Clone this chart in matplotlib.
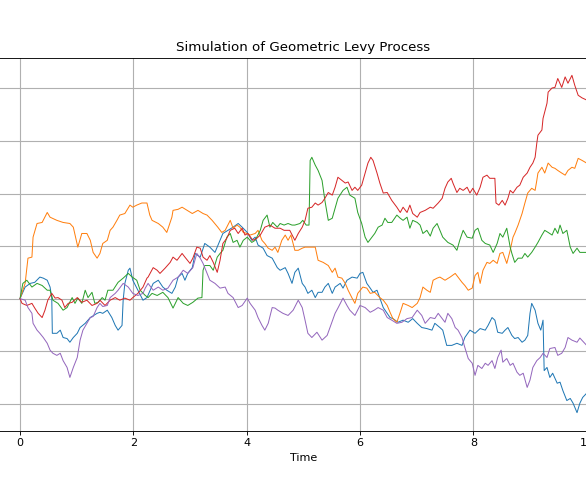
#! usr/bin/env python3

import numpy as np
import matplotlib
matplotlib.use("Agg")
import matplotlib.pyplot as plt
from matplotlib.ticker import MultipleLocator

#	values (time, price), start at 100
t_blue = [0.00, 0.09, 0.18, 0.26, 0.35, 0.41, 0.48, 0.53, 0.56, 0.57, 0.65, 0.71, 0.76, 0.83, 0.88, 0.94,
          1.01, 1.06, 1.15, 1.24, 1.36, 1.41, 1.46, 1.54, 1.62, 1.68, 1.73, 1.80, 1.82, 1.85, 1.91, 1.94,
          1.99, 2.08, 2.17, 2.24, 2.35, 2.44, 2.52, 2.59, 2.68, 2.74, 2.79, 2.86, 2.91, 2.96, 3.04, 3.09,
          3.18, 3.26, 3.35, 3.44, 3.53, 3.58, 3.67, 3.76, 3.85, 3.92, 4.01, 4.09, 4.15, 4.20, 4.29, 4.36,
          4.45, 4.54, 4.59, 4.68, 4.73, 4.80, 4.85, 4.91, 4.98, 5.03, 5.08, 5.15, 5.21, 5.26, 5.33, 5.38,
          5.44, 5.51, 5.56, 5.65, 5.70, 5.77, 5.86, 5.95, 6.00, 6.05, 6.12, 6.18, 6.23, 6.30, 6.35, 6.41,
          6.48, 6.53, 6.58, 6.67, 6.76, 6.85, 6.93, 7.01, 7.09, 7.18, 7.27, 7.32, 7.41, 7.46, 7.53, 7.62,
          7.71, 7.80, 7.85, 7.94, 8.03, 8.12, 8.21, 8.26, 8.33, 8.38, 8.43, 8.51, 8.56, 8.61, 8.68, 8.73,
          8.79, 8.86, 8.91, 8.96, 9.00, 9.03, 9.09, 9.14, 9.19, 9.23, 9.25, 9.30, 9.35, 9.40, 9.48, 9.53,
          9.58, 9.65, 9.71, 9.76, 9.83, 9.88, 9.93, 10.0]
v_blue = [100.0, 102.2, 102.9, 103.1, 104.1, 103.9, 103.5, 102.2, 100.2, 93.4, 93.4, 94.0, 92.6, 92.4, 91.7, 92.6,
          93.4, 94.5, 95.3, 96.4, 97.2, 97.4, 97.2, 97.8, 96.4, 94.9, 94.0, 94.9, 99.7, 102.9, 105.4, 105.8,
          103.5, 101.6, 99.7, 100.2, 102.9, 103.5, 102.2, 101.6, 101.0, 102.2, 104.1, 104.8, 103.5, 104.8, 105.9, 108.6,
          107.9, 110.5, 109.8, 108.8, 111.1, 112.4, 113.0, 113.6, 114.3, 113.6, 112.6, 111.1, 111.7, 110.2, 109.6, 108.2,
          107.7, 105.9, 105.4, 105.9, 104.8, 102.9, 105.0, 105.8, 102.9, 102.2, 101.0, 101.6, 100.2, 101.2, 101.2, 102.2,
          102.9, 101.0, 102.2, 102.9, 102.0, 103.5, 104.1, 103.9, 104.8, 105.0, 102.9, 102.0, 101.2, 101.6, 100.1, 98.3,
          97.2, 96.4, 96.2, 95.5, 95.9, 95.5, 96.2, 95.3, 94.5, 94.3, 94.0, 95.3, 94.5, 94.0, 91.1, 91.1,
          91.5, 91.1, 92.6, 94.0, 93.4, 94.3, 94.0, 94.9, 96.4, 95.9, 93.6, 93.4, 94.0, 94.5, 93.0, 92.4,
          92.6, 91.7, 92.1, 93.0, 97.2, 99.1, 97.8, 95.3, 94.0, 95.9, 86.3, 86.9, 85.0, 85.8, 83.9, 84.1,
          82.5, 80.6, 81.0, 80.1, 78.3, 80.1, 81.2, 82.0]

t_orange = [0.00, 0.09, 0.14, 0.21, 0.23, 0.30, 0.39, 0.48, 0.53, 0.65, 0.76, 0.88, 0.94, 1.02, 1.09, 1.18,
            1.24, 1.29, 1.36, 1.41, 1.46, 1.54, 1.59, 1.64, 1.71, 1.76, 1.85, 1.94, 1.99, 2.06, 2.15, 2.24,
            2.29, 2.33, 2.44, 2.52, 2.59, 2.68, 2.70, 2.79, 2.86, 2.95, 3.04, 3.14, 3.23, 3.30, 3.39, 3.49,
            3.56, 3.62, 3.71, 3.76, 3.83, 3.88, 3.94, 4.01, 4.06, 4.15, 4.20, 4.27, 4.32, 4.38, 4.45, 4.50,
            4.55, 4.62, 4.68, 4.73, 4.78, 4.85, 4.91, 4.98, 5.03, 5.12, 5.21, 5.26, 5.35, 5.44, 5.51, 5.56,
            5.61, 5.68, 5.74, 5.79, 5.86, 5.91, 5.96, 6.05, 6.12, 6.18, 6.26, 6.35, 6.41, 6.48, 6.53, 6.58,
            6.65, 6.71, 6.76, 6.85, 6.92, 7.01, 7.06, 7.11, 7.18, 7.24, 7.29, 7.36, 7.41, 7.50, 7.59, 7.68,
            7.73, 7.80, 7.85, 7.91, 7.98, 8.03, 8.08, 8.12, 8.17, 8.24, 8.29, 8.35, 8.42, 8.47, 8.52, 8.59,
            8.65, 8.70, 8.73, 8.79, 8.86, 8.91, 8.96, 9.03, 9.09, 9.12, 9.14, 9.21, 9.26, 9.32, 9.39, 9.44,
            9.49, 9.56, 9.62, 9.67, 9.74, 9.79, 9.85, 9.92, 10.0]
v_orange = [100.0, 102.9, 107.7, 107.9, 111.7, 114.3, 114.5, 116.4, 115.5, 114.9, 114.5, 114.3, 113.6, 109.8, 112.4, 112.4,
            111.1, 108.8, 107.7, 108.6, 110.5, 111.1, 113.0, 113.6, 114.9, 115.9, 116.2, 117.8, 117.4, 117.8, 118.2, 118.2,
            115.9, 114.9, 114.3, 113.6, 112.6, 115.5, 116.8, 117.0, 117.4, 116.8, 116.2, 116.8, 116.2, 115.9, 114.9, 113.6,
            112.6, 113.0, 114.9, 113.4, 114.0, 113.6, 112.6, 112.4, 112.1, 112.4, 113.0, 111.1, 110.5, 109.6, 109.2, 109.8,
            108.8, 111.1, 112.1, 111.1, 112.1, 109.2, 109.2, 109.6, 109.8, 109.8, 109.8, 107.3, 106.9, 106.3, 105.0, 105.8,
            104.1, 103.9, 102.9, 101.6, 100.1, 99.1, 101.0, 102.2, 102.0, 101.0, 101.2, 100.2, 99.7, 98.7, 97.4, 96.2,
            95.5, 97.4, 99.1, 98.7, 98.3, 99.1, 100.2, 102.2, 101.6, 101.2, 103.5, 103.9, 104.1, 103.5, 104.1, 104.8,
            104.1, 103.1, 102.5, 101.6, 102.0, 104.4, 105.0, 102.9, 105.4, 106.9, 106.7, 107.3, 106.7, 108.6, 108.8, 106.7,
            109.2, 111.7, 112.4, 114.0, 116.2, 118.2, 120.1, 121.0, 120.6, 122.5, 123.9, 125.0, 123.9, 125.8, 125.0, 124.8,
            124.4, 123.9, 123.5, 124.4, 125.0, 124.8, 126.7, 126.3, 125.8]

t_green = [0.00, 0.05, 0.12, 0.21, 0.30, 0.39, 0.48, 0.53, 0.58, 0.67, 0.76, 0.83, 0.92, 0.97, 1.02, 1.09,
           1.15, 1.20, 1.27, 1.32, 1.38, 1.45, 1.50, 1.55, 1.64, 1.73, 1.82, 1.91, 1.98, 2.06, 2.12, 2.21,
           2.26, 2.33, 2.42, 2.52, 2.61, 2.70, 2.79, 2.88, 2.96, 3.05, 3.14, 3.21, 3.23, 3.26, 3.35, 3.41,
           3.48, 3.53, 3.58, 3.65, 3.71, 3.76, 3.83, 3.88, 3.94, 4.01, 4.09, 4.15, 4.24, 4.29, 4.36, 4.41,
           4.46, 4.54, 4.59, 4.66, 4.73, 4.80, 4.85, 4.94, 4.99, 5.05, 5.10, 5.12, 5.15, 5.21, 5.26, 5.33,
           5.38, 5.44, 5.51, 5.56, 5.61, 5.70, 5.77, 5.82, 5.91, 5.96, 6.03, 6.09, 6.14, 6.21, 6.26, 6.32,
           6.39, 6.44, 6.49, 6.56, 6.65, 6.71, 6.76, 6.83, 6.88, 6.93, 7.01, 7.06, 7.11, 7.18, 7.24, 7.29,
           7.36, 7.41, 7.46, 7.55, 7.64, 7.71, 7.76, 7.82, 7.89, 7.98, 8.03, 8.08, 8.15, 8.21, 8.29, 8.35,
           8.42, 8.47, 8.52, 8.59, 8.65, 8.68, 8.73, 8.79, 8.86, 8.91, 8.96, 9.03, 9.09, 9.14, 9.21, 9.26,
           9.32, 9.39, 9.44, 9.49, 9.53, 9.58, 9.65, 9.71, 9.76, 9.83, 9.88, 10.0]
v_green = [100.0, 102.9, 103.5, 102.2, 102.9, 102.5, 101.6, 101.6, 99.7, 99.1, 97.8, 98.3, 100.2, 99.1, 100.1, 99.1,
           101.6, 100.2, 101.2, 99.1, 99.3, 100.2, 99.7, 101.6, 101.6, 103.1, 103.9, 104.8, 104.1, 103.5, 101.6, 100.6,
           100.2, 101.0, 100.6, 101.2, 100.2, 98.2, 100.2, 99.1, 98.7, 99.3, 100.1, 100.2, 105.4, 106.3, 106.3, 105.4,
           107.9, 108.6, 109.2, 111.7, 112.4, 110.7, 111.1, 109.8, 111.1, 111.7, 110.7, 111.1, 113.0, 114.9, 115.9, 113.6,
           114.5, 113.6, 114.3, 114.0, 114.3, 114.0, 114.0, 114.3, 114.9, 114.0, 114.0, 126.3, 126.9, 125.4, 124.4, 122.5,
           118.7, 114.9, 115.3, 117.2, 119.1, 120.6, 121.2, 119.7, 119.1, 116.4, 114.3, 111.7, 110.7, 111.7, 112.4, 113.6,
           114.0, 115.3, 114.5, 114.5, 115.9, 115.3, 114.9, 115.5, 113.4, 114.9, 114.5, 114.0, 112.4, 113.0, 111.9, 113.4,
           114.3, 113.0, 111.7, 110.7, 110.2, 109.2, 111.1, 113.0, 111.7, 111.5, 113.0, 113.4, 111.1, 110.5, 110.2, 108.8,
           110.5, 112.4, 111.7, 113.4, 109.8, 108.6, 106.9, 107.7, 107.7, 108.6, 107.9, 108.8, 109.8, 110.7, 112.1, 113.0,
           112.6, 112.1, 113.4, 112.4, 114.0, 112.4, 113.0, 109.8, 108.6, 109.6, 108.8, 108.8]

t_red = [0.00, 0.035, 0.12, 0.21, 0.26, 0.32, 0.39, 0.44, 0.49, 0.56, 0.62, 0.67, 0.74, 0.79, 0.85, 0.92,
         1.01, 1.09, 1.18, 1.27, 1.36, 1.41, 1.50, 1.59, 1.68, 1.76, 1.85, 1.94, 1.99, 2.08, 2.17, 2.24,
         2.26, 2.35, 2.42, 2.47, 2.56, 2.65, 2.70, 2.77, 2.86, 2.91, 3.00, 3.05, 3.12, 3.18, 3.23, 3.30,
         3.35, 3.41, 3.48, 3.53, 3.58, 3.65, 3.71, 3.79, 3.85, 3.92, 3.97, 4.02, 4.11, 4.18, 4.24, 4.32,
         4.41, 4.50, 4.59, 4.66, 4.76, 4.85, 4.91, 4.98, 5.03, 5.08, 5.15, 5.21, 5.26, 5.33, 5.38, 5.44,
         5.51, 5.56, 5.61, 5.68, 5.74, 5.79, 5.86, 5.91, 5.96, 6.03, 6.09, 6.14, 6.19, 6.23, 6.30, 6.35,
         6.41, 6.48, 6.56, 6.65, 6.71, 6.76, 6.83, 6.88, 6.93, 7.01, 7.06, 7.15, 7.24, 7.29, 7.38, 7.45,
         7.50, 7.55, 7.61, 7.64, 7.71, 7.76, 7.82, 7.89, 7.94, 7.99, 8.06, 8.12, 8.17, 8.24, 8.29, 8.38,
         8.40, 8.45, 8.51, 8.56, 8.61, 8.65, 8.70, 8.77, 8.82, 8.88, 8.95, 9.00, 9.05, 9.09, 9.12, 9.14,
         9.21, 9.23, 9.30, 9.32, 9.39, 9.44, 9.49, 9.56, 9.62, 9.67, 9.74, 9.79, 9.85, 9.92, 10.0]
v_red = [100.0, 99.1, 98.7, 99.1, 98.2, 97.2, 96.4, 97.8, 99.7, 101.0, 100.1, 100.2, 99.7, 98.3, 99.1, 99.3,
         100.2, 99.3, 99.7, 98.7, 99.1, 99.7, 98.7, 99.7, 100.2, 99.7, 100.1, 99.7, 100.2, 101.0, 102.2, 103.9,
         104.1, 105.9, 105.4, 104.8, 105.8, 106.9, 107.9, 107.3, 108.6, 107.9, 106.7, 107.7, 109.8, 109.6, 107.9, 107.3,
         108.2, 106.9, 105.0, 107.3, 110.5, 111.5, 113.0, 113.4, 112.4, 113.4, 112.1, 112.4, 111.1, 111.5, 112.1, 113.6,
         114.0, 113.4, 113.4, 113.0, 113.0, 111.1, 112.4, 113.6, 114.9, 117.2, 117.4, 118.2, 117.8, 118.3, 119.1, 120.2,
         119.7, 121.2, 123.1, 122.5, 122.0, 122.2, 120.6, 121.2, 120.6, 121.6, 123.9, 125.8, 126.9, 126.3, 123.9, 122.0,
         120.1, 120.2, 118.7, 117.4, 116.4, 117.4, 116.4, 117.8, 116.2, 115.5, 116.4, 116.8, 117.4, 117.2, 118.2, 119.1,
         121.0, 122.2, 122.9, 122.0, 120.2, 121.0, 120.6, 121.2, 120.1, 121.0, 119.7, 121.2, 123.1, 123.5, 122.9, 122.9,
         118.2, 117.8, 118.7, 117.8, 119.1, 120.6, 120.1, 121.2, 121.6, 123.1, 123.9, 125.0, 125.8, 126.9, 129.6, 131.1,
         132.1, 134.3, 137.2, 139.3, 140.1, 140.2, 141.9, 140.2, 142.2, 141.0, 142.5, 140.6, 138.7, 138.2, 137.8]

t_purple = [0.00, 0.09, 0.14, 0.21, 0.23, 0.30, 0.35, 0.41, 0.48, 0.53, 0.58, 0.65, 0.71, 0.76, 0.83, 0.88,
            0.94, 1.01, 1.06, 1.11, 1.18, 1.24, 1.29, 1.36, 1.41, 1.46, 1.54, 1.59, 1.68, 1.73, 1.82, 1.91,
            1.99, 2.08, 2.17, 2.21, 2.26, 2.35, 2.44, 2.52, 2.61, 2.70, 2.79, 2.88, 2.96, 3.05, 3.12, 3.18,
            3.23, 3.30, 3.35, 3.44, 3.53, 3.62, 3.67, 3.76, 3.85, 3.92, 4.01, 4.06, 4.15, 4.20, 4.27, 4.32,
            4.38, 4.45, 4.50, 4.55, 4.64, 4.73, 4.82, 4.91, 4.98, 5.03, 5.08, 5.15, 5.24, 5.33, 5.42, 5.47,
            5.56, 5.61, 5.70, 5.77, 5.82, 5.91, 6.00, 6.09, 6.18, 6.25, 6.32, 6.41, 6.48, 6.56, 6.65, 6.74,
            6.83, 6.92, 7.01, 7.09, 7.15, 7.24, 7.32, 7.38, 7.45, 7.50, 7.55, 7.62, 7.68, 7.73, 7.80, 7.85,
            7.91, 7.98, 8.03, 8.08, 8.15, 8.21, 8.26, 8.33, 8.38, 8.43, 8.49, 8.52, 8.59, 8.65, 8.70, 8.77,
            8.82, 8.88, 8.95, 9.00, 9.05, 9.12, 9.18, 9.23, 9.30, 9.35, 9.44, 9.49, 9.56, 9.62, 9.67, 9.74,
            9.83, 9.88, 10.0]
v_purple = [100.0, 99.7, 98.3, 97.2, 95.3, 94.0, 93.4, 92.6, 91.5, 90.2, 89.6, 89.2, 89.6, 88.2, 86.9, 85.0,
            86.9, 88.8, 92.1, 94.0, 95.3, 96.4, 96.6, 98.3, 99.1, 98.5, 98.7, 100.2, 101.0, 101.6, 102.9, 102.2,
            101.0, 100.6, 101.0, 102.0, 102.9, 101.6, 102.2, 101.6, 102.0, 103.5, 104.1, 105.4, 104.8, 105.9, 108.6, 107.7,
            106.7, 104.8, 103.5, 102.9, 102.0, 102.2, 101.0, 100.2, 98.3, 98.7, 100.1, 99.1, 97.8, 96.4, 94.9, 94.0,
            95.3, 98.3, 98.2, 97.8, 97.2, 96.8, 97.8, 99.7, 98.3, 95.9, 93.4, 92.6, 93.6, 92.1, 93.0, 94.5,
            97.2, 98.2, 100.1, 98.7, 97.8, 96.8, 98.7, 98.3, 97.4, 97.8, 98.3, 97.8, 96.4, 95.9, 95.3, 95.5,
            96.2, 96.4, 97.8, 96.8, 95.3, 96.4, 96.2, 97.2, 96.2, 95.5, 97.2, 96.2, 94.5, 94.0, 92.6, 90.7,
            88.6, 87.7, 85.4, 87.3, 86.7, 87.7, 87.3, 88.2, 86.7, 88.8, 90.2, 87.9, 88.6, 87.3, 87.7, 86.0,
            85.4, 85.8, 83.1, 84.5, 86.9, 88.2, 88.8, 89.6, 88.8, 90.5, 90.7, 89.2, 89.6, 90.7, 92.6, 92.1,
            91.7, 92.5, 91.1]

series = [(t_blue, v_blue), (t_orange, v_orange), (t_green, v_green), (t_red, v_red), (t_purple, v_purple)]

#	586x483 px at 80 dpi, default font sizes then match the reference
fig = plt.figure(figsize=(586 / 80, 483 / 80), dpi=80)
#	axes runs past both sides of the figure, like the cropped original
ax = fig.add_axes([-8.3 / 586, 1 - 430.5 / 483, 623.3 / 586, 372.5 / 483])

for (t, v) in series:
    ax.plot(np.array(t), np.array(v), linewidth=0.9)

ax.set_xlim(-0.5, 10.5)
ax.set_ylim(74.9, 145.8)
ax.xaxis.set_major_locator(MultipleLocator(2))
ax.yaxis.set_major_locator(MultipleLocator(10))
ax.grid(True, color='#b0b0b0', linewidth=1.0)
ax.set_xlabel("Time")
ax.set_title("Simulation of Geometric Levy Process")

fig.savefig("out.png", dpi=80)
plt.close()
